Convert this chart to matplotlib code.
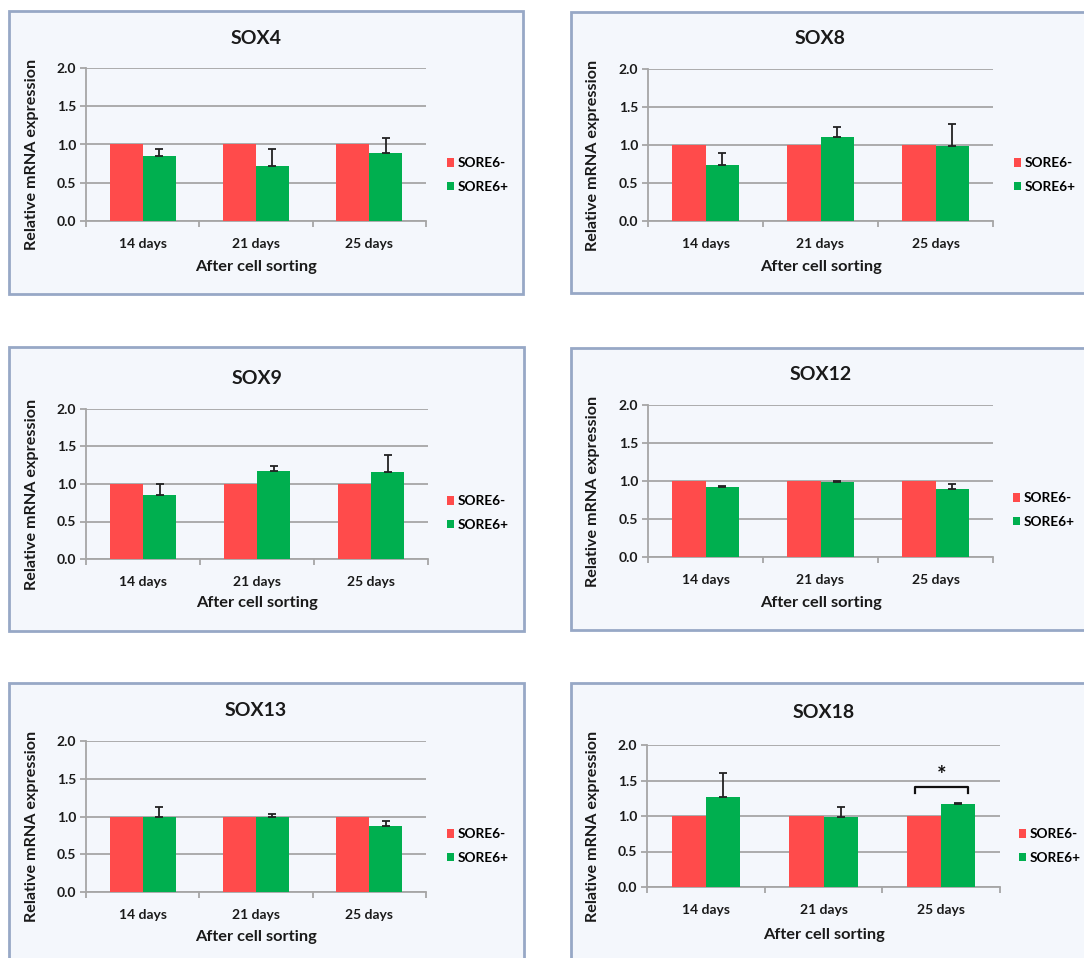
import matplotlib
matplotlib.use("Agg")
import matplotlib.pyplot as plt
from matplotlib.patches import Rectangle
import numpy as np

plt.rcParams['font.family'] = ['Lato', 'DejaVu Sans']
plt.rcParams['font.weight'] = 'bold'

# ---- data ----
timepoints = ["14 days", "21 days", "25 days"]
series_names = ["SORE6-", "SORE6+"]
genes = ["SOX4", "SOX8", "SOX9", "SOX12", "SOX13", "SOX18"]

sore6_neg = [1.0, 1.0, 1.0]
sox4_pos = [0.85, 0.72, 0.89]
sox4_err = [0.095, 0.22, 0.20]
sox8_pos = [0.74, 1.10, 0.99]
sox8_err = [0.16, 0.14, 0.29]
sox9_pos = [0.85, 1.17, 1.16]
sox9_err = [0.15, 0.07, 0.23]
sox12_pos = [0.92, 0.99, 0.90]
sox12_err = [0.02, 0.01, 0.055]
sox13_pos = [1.00, 1.00, 0.87]
sox13_err = [0.12, 0.03, 0.07]
sox18_pos = [1.27, 0.98, 1.175]
sox18_err = [0.33, 0.15, 0.01]

pos_values = [sox4_pos, sox8_pos, sox9_pos, sox12_pos, sox13_pos, sox18_pos]
pos_errors = [sox4_err, sox8_err, sox9_err, sox12_err, sox13_err, sox18_err]
y_ticks = [0.0, 0.5, 1.0, 1.5, 2.0]

# ---- styling ----
W, H = 1084, 958
RED = "#FF4B4B"
GREEN = "#00AF4F"
GRID = "#A6A6A6"
PANEL_BG = "#F4F7FC"
PANEL_EDGE = "#97A8C6"
TXT = "#1A1A1A"

fig = plt.figure(figsize=(W / 100, H / 100), dpi=100)
fig.patch.set_facecolor("white")


def fx(px):
    return px / W


def fy(py):
    return 1 - py / H


# panel frames: (left, top, right, bottom) in pixels
frames = [
    (9, 11, 523, 294),
    (571, 12, 1095, 293),
    (9, 347, 524, 631),
    (571, 348, 1095, 630),
    (9, 683, 524, 975),
    (571, 683, 1095, 975),
]
# plot areas: (left, top, right, bottom) in pixels
plot_areas = [
    (86, 68, 426, 221),
    (648, 69, 993, 221),
    (86, 409, 428, 559),
    (648, 405, 993, 557),
    (86, 741, 426, 892),
    (647, 745, 1000, 887),
]
# legend anchor (left x, centre y between the two rows)
legend_pos = [
    (447, 175), (1014, 175), (447, 513), (1013, 510), (447, 846), (1019, 846),
]
title_y = [38, 39, 379, 375, 711, 713]
xlabel_y = [267, 267, 603, 603, 937, 935]
ylabel_x = [32, 593, 32, 593, 32, 593]

for (l, t, r, b) in frames:
    fig.patches.append(Rectangle((fx(l), fy(b)), fx(r) - fx(l), fy(t) - fy(b),
                                 transform=fig.transFigure, facecolor=PANEL_BG,
                                 edgecolor=PANEL_EDGE, linewidth=2.0, zorder=-5))

bar_w = 0.29
centers = np.arange(len(timepoints)) + 0.5

for i, gene in enumerate(genes):
    l, t, r, b = plot_areas[i]
    ax = fig.add_axes([fx(l), fy(b), fx(r) - fx(l), fy(t) - fy(b)])
    ax.set_facecolor("none")
    ax.set_xlim(0, 3)
    ax.set_ylim(0, 2.0)

    b1 = ax.bar(centers - bar_w / 2, sore6_neg, width=bar_w, color=RED,
                label=series_names[0], zorder=3)
    b2 = ax.bar(centers + bar_w / 2, pos_values[i], width=bar_w, color=GREEN,
                label=series_names[1], zorder=3)
    ax.errorbar(centers + bar_w / 2, pos_values[i],
                yerr=[np.zeros(3), pos_errors[i]], fmt="none",
                ecolor="#222222", elinewidth=1.3, capsize=2.8, capthick=1.3,
                zorder=4)

    ax.set_yticks(y_ticks)
    ax.set_yticklabels([f"{v:.1f}" for v in y_ticks], fontsize=10, color=TXT,
                       fontweight="bold")
    ax.yaxis.grid(True, color=GRID, linewidth=1.3, zorder=0)
    ax.set_axisbelow(True)

    ax.set_xticks([0, 1, 2, 3])
    ax.set_xticklabels([])
    ax.set_xticks(centers, minor=True)
    ax.set_xticklabels(timepoints, minor=True, fontsize=10, color=TXT,
                       fontweight="bold")
    ax.tick_params(axis="x", which="major", length=4, color=GRID, width=1.3,
                   direction="out")
    ax.tick_params(axis="x", which="minor", length=0, pad=12)
    ax.tick_params(axis="y", length=4, color=GRID, width=1.3, pad=3)

    for side in ("top", "right"):
        ax.spines[side].set_visible(False)
    for side in ("left", "bottom"):
        ax.spines[side].set_color(GRID)
        ax.spines[side].set_linewidth(1.3)

    cx = (l + r) / 2
    fig.text(fx(cx), fy(title_y[i]), gene, ha="center", va="center",
             fontsize=14, fontweight="bold", color=TXT)
    fig.text(fx(cx), fy(xlabel_y[i]), "After cell sorting", ha="center",
             va="center", fontsize=11.8, fontweight="bold", color=TXT)
    fig.text(fx(ylabel_x[i]), fy((t + b) / 2 + 10), "Relative mRNA expression",
             ha="center", va="center", rotation=90, fontsize=11.6,
             fontweight="bold", color=TXT)

    lx, ly = legend_pos[i]
    ax.legend(handles=[b1, b2], loc="center left",
              bbox_to_anchor=(fx(lx), fy(ly)), bbox_transform=fig.transFigure,
              frameon=False, handlelength=0.55, handleheight=0.55,
              handletextpad=0.25, labelspacing=0.85, borderpad=0,
              borderaxespad=0, prop={"weight": "bold", "size": 9.8})

    if gene == "SOX18":
        # significance bracket over the 25-day pair
        xa = centers[2] - bar_w / 2 - 0.075
        xb = centers[2] + bar_w / 2 + 0.085
        ax.plot([xa, xa, xb, xb], [1.32, 1.41, 1.41, 1.32], color="#111111",
                linewidth=1.6, zorder=5, clip_on=False)
        ax.text((xa + xb) / 2, 1.57, "*", ha="center", va="center",
                fontsize=16, fontweight="bold", color="#111111")

fig.savefig("out.png", dpi=100, facecolor="white")
